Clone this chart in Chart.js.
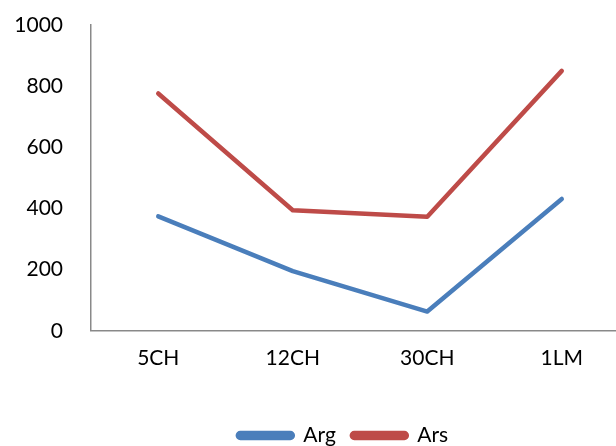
<!DOCTYPE html>
<html>
<head>
<meta charset="utf-8">
<script src="https://cdn.jsdelivr.net/npm/chart.js@4"></script>
<style>
  html, body { margin: 0; padding: 0; background: #fff; overflow: hidden; }
  #wrap { position: absolute; left: 0; top: 0; width: 686px; height: 456px; }
</style>
</head>
<body>
<div id="wrap"><canvas id="c"></canvas></div>
<script>
const categories = ['5CH', '12CH', '30CH', '1LM'];
const argValues = [374, 195, 63, 431];
const arsValues = [776, 394, 373, 850];
const yTicks = [0, 200, 400, 600, 800, 1000];

const font = { family: 'Lato, "Liberation Sans", sans-serif', size: 21 };

// Center the legend on the full canvas width instead of the padded box
const legendCenter = {
  id: 'legendCenter',
  afterLayout(chart) {
    const lg = chart.legend;
    if (!lg) return;
    const shift = (chart.width - (lg.left + lg.right)) / 2;
    lg.left += shift;
    lg.right += shift;
  }
};

new Chart(document.getElementById('c'), {
  type: 'line',
  data: {
    labels: categories,
    datasets: [
      { label: 'Arg', data: argValues, borderColor: '#4A7EBB', backgroundColor: '#4A7EBB' },
      { label: 'Ars', data: arsValues, borderColor: '#BE4B48', backgroundColor: '#BE4B48' }
    ]
  },
  plugins: [legendCenter],
  options: {
    responsive: true,
    maintainAspectRatio: false,
    animation: false,
    layout: { padding: { left: 0, right: 57, top: 25, bottom: 0 } },
    elements: {
      line: { borderWidth: 4.5, borderCapStyle: 'round', borderJoinStyle: 'round', tension: 0 },
      point: { radius: 0, hoverRadius: 0 }
    },
    scales: {
      x: {
        offset: true,
        afterFit(scale) { scale.height += 23; },
        grid: { display: false, drawTicks: false },
        border: { display: true, color: '#898989', width: 1.5 },
        ticks: { color: '#000', font: font, padding: 15 }
      },
      y: {
        min: 0,
        max: 1000,
        afterBuildTicks(scale) { scale.ticks = yTicks.map(v => ({ value: v })); },
        afterFit(scale) { scale.width = 91; scale.paddingTop = 0; scale.paddingBottom = 0; },
        grid: { display: false, drawTicks: false },
        border: { display: true, color: '#898989', width: 1.5 },
        ticks: { color: '#000', font: font, padding: 28, callback: v => String(v) }
      }
    },
    plugins: {
      tooltip: { enabled: false },
      legend: {
        position: 'bottom',
        labels: {
          color: '#000',
          font: font,
          boxWidth: 55,
          boxHeight: 5,
          useBorderRadius: true,
          borderRadius: 2.5,
          padding: 16
        }
      }
    }
  }
});
</script>
</body>
</html>
